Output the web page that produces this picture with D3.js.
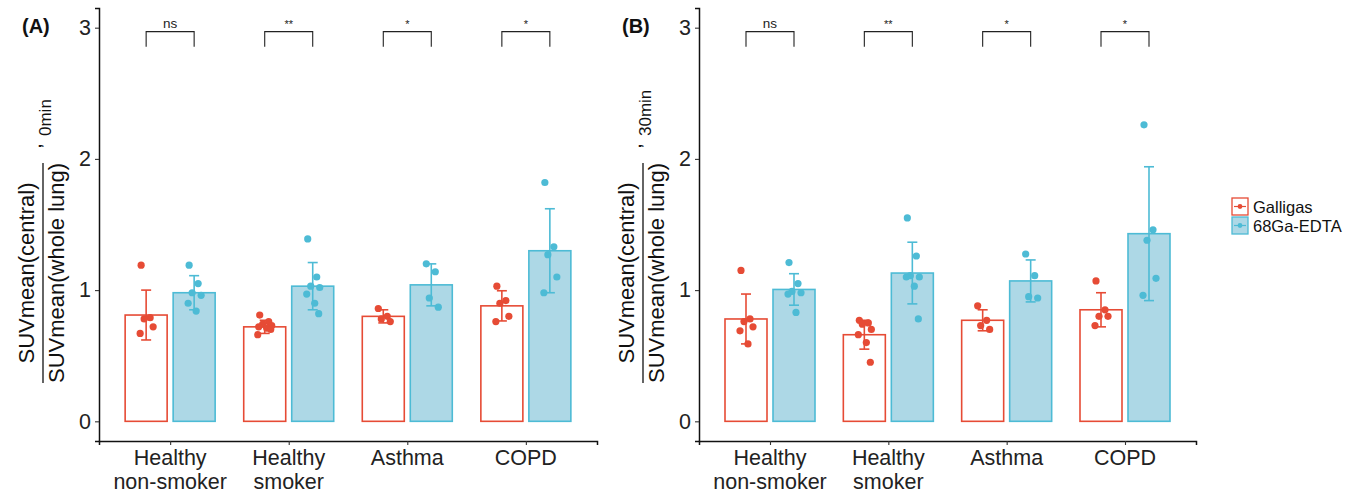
<!DOCTYPE html>
<html>
<head>
<meta charset="utf-8">
<script src="https://cdn.jsdelivr.net/npm/d3@7"></script>
<style>
  body { margin: 0; background: #fff; }
  text { font-family: "Liberation Sans", Arial, Helvetica, sans-serif; }
</style>
</head>
<body>
<svg width="1358" height="494"></svg>
<script>
// categories / groups
var categories = ["Healthy non-smoker", "Healthy smoker", "Asthma", "COPD"];
var catLines = [["Healthy", "non-smoker"], ["Healthy", "smoker"], ["Asthma"], ["COPD"]];
var tracers = ["Galligas", "68Ga-EDTA"];
var sigLabels = ["ns", "**", "*", "*"];
var yTicks = [0, 1, 2, 3];

// panel A (0 min)
var meanA_gal  = [0.81, 0.72, 0.80, 0.88];
var sdA_gal    = [0.19, 0.05, 0.05, 0.115];
var meanA_edta = [0.98, 1.03, 1.04, 1.30];
var sdA_edta   = [0.13, 0.18, 0.16, 0.32];
var ptsA_gal = [
  [1.19, 0.79, 0.78, 0.72, 0.67],
  [0.81, 0.76, 0.74, 0.73, 0.72, 0.71, 0.70, 0.66],
  [0.86, 0.80, 0.78, 0.76],
  [1.03, 0.92, 0.90, 0.80, 0.76]
];
var ptsA_edta = [
  [1.19, 1.05, 0.98, 0.96, 0.90, 0.84],
  [1.39, 1.10, 1.03, 1.02, 0.97, 0.90, 0.82],
  [1.20, 1.14, 0.94, 0.87],
  [1.82, 1.33, 1.27, 1.10, 0.98]
];

// panel B (30 min)
var meanB_gal  = [0.78, 0.66, 0.77, 0.85];
var sdB_gal    = [0.19, 0.11, 0.08, 0.13];
var meanB_edta = [1.005, 1.13, 1.07, 1.43];
var sdB_edta   = [0.12, 0.235, 0.16, 0.51];
var ptsB_gal = [
  [1.15, 0.78, 0.76, 0.72, 0.69, 0.59],
  [0.77, 0.75, 0.74, 0.70, 0.66, 0.60, 0.45],
  [0.88, 0.77, 0.73, 0.70],
  [1.07, 0.85, 0.80, 0.80, 0.73]
];
var ptsB_edta = [
  [1.21, 1.05, 0.99, 0.98, 0.97, 0.83],
  [1.55, 1.26, 1.11, 1.10, 1.10, 1.03, 0.78],
  [1.275, 1.11, 0.95, 0.94],
  [2.26, 1.46, 1.38, 1.09, 0.96]
];

var red = "#E64B35", blue = "#4DBBD5", lightblue = "#ADD8E6";
var strokeCol = [red, blue], fillCol = ["#ffffff", lightblue];

// fixed jitter pattern (px), like geom_jitter but reproducible
var jitter = [-5, 4, -2, 7, -6, 2, 6, -7];

var svg = d3.select("svg");
svg.append("rect").attr("width", 1358).attr("height", 494).attr("fill", "#fff");

var y = d3.scaleLinear().domain([-0.15, 3.15]).range([441, 8]);

function drawPanel(left, right, label, suffix, means, sds, pts) {
  var g = svg.append("g");
  var x = d3.scalePoint().domain(categories).range([left, right]).padding(0.6);
  var dodge = 24, barW = 42;

  // bars
  categories.forEach(function(c, i) {
    [0, 1].forEach(function(t) {
      var cx = x(c) + (t === 0 ? -dodge : dodge);
      g.append("rect")
        .attr("x", cx - barW / 2)
        .attr("y", y(means[t][i]))
        .attr("width", barW)
        .attr("height", y(0) - y(means[t][i]))
        .attr("fill", fillCol[t])
        .attr("stroke", strokeCol[t])
        .attr("stroke-width", 1.6);
    });
  });

  // error bars
  categories.forEach(function(c, i) {
    [0, 1].forEach(function(t) {
      var cx = x(c) + (t === 0 ? -dodge : dodge);
      var lo = y(means[t][i] - sds[t][i]), hi = y(means[t][i] + sds[t][i]);
      var e = g.append("g").attr("stroke", strokeCol[t]).attr("stroke-width", 1.6);
      e.append("line").attr("x1", cx).attr("x2", cx).attr("y1", lo).attr("y2", hi);
      e.append("line").attr("x1", cx - 5).attr("x2", cx + 5).attr("y1", lo).attr("y2", lo);
      e.append("line").attr("x1", cx - 5).attr("x2", cx + 5).attr("y1", hi).attr("y2", hi);
    });
  });

  // points
  categories.forEach(function(c, i) {
    [0, 1].forEach(function(t) {
      var cx = x(c) + (t === 0 ? -dodge : dodge);
      g.selectAll(null).data(pts[t][i]).enter().append("circle")
        .attr("cx", function(d, k) { return cx + jitter[k % jitter.length]; })
        .attr("cy", function(d) { return y(d); })
        .attr("r", 3.6)
        .attr("fill", strokeCol[t]);
    });
  });

  // significance brackets
  categories.forEach(function(c, i) {
    var x1 = x(c) - dodge, x2 = x(c) + dodge;
    g.append("path")
      .attr("d", "M" + x1 + "," + y(2.855) + "V" + y(2.97) + "H" + x2 + "V" + y(2.855))
      .attr("fill", "none").attr("stroke", "#222").attr("stroke-width", 1.1);
    g.append("text")
      .attr("x", x(c)).attr("y", y(2.97) - 4)
      .attr("text-anchor", "middle")
      .attr("font-size", sigLabels[i] === "ns" ? 13.5 : 11)
      .attr("fill", "#222")
      .text(sigLabels[i]);
  });

  // y axis
  var ya = g.append("g").attr("transform", "translate(" + left + ",0)")
    .call(d3.axisLeft(y).tickValues(yTicks).tickSize(4).tickPadding(4).tickFormat(d3.format("d")));
  ya.select(".domain").attr("stroke", "#111").attr("stroke-width", 1.5);
  ya.selectAll(".tick line").attr("stroke", "#333").attr("stroke-width", 1.1);
  ya.selectAll(".tick text").attr("font-size", 21.5).attr("fill", "#222")
    .attr("font-family", "Liberation Sans, Arial, sans-serif");

  // x axis
  var xa = g.append("g").attr("transform", "translate(0," + y(-0.15) + ")")
    .call(d3.axisBottom(x).tickSize(4).tickFormat(""));
  xa.select(".domain").attr("stroke", "#111").attr("stroke-width", 1.5);
  xa.selectAll(".tick line").attr("stroke", "#333").attr("stroke-width", 1.1);
  categories.forEach(function(c, i) {
    catLines[i].forEach(function(s, k) {
      g.append("text").attr("text-anchor", "middle").attr("font-size", 21.5).attr("fill", "#222")
        .attr("x", x(c)).attr("y", 465 + k * 24).text(s);
    });
  });

  // panel tag
  g.append("text").attr("x", left - 77).attr("y", 33)
    .attr("font-size", 20).attr("font-weight", "bold").attr("fill", "#111").text(label);

  // y title: fraction with subscript
  var tt = g.append("g").attr("transform", "translate(" + (left - 56) + ",273) rotate(-90)");
  tt.append("text").attr("x", 0).attr("y", -9).attr("text-anchor", "middle")
    .attr("font-size", 22).attr("fill", "#111").text("SUVmean(central)");
  tt.append("text").attr("x", 0).attr("y", 21).attr("text-anchor", "middle")
    .attr("font-size", 22).attr("fill", "#111").text("SUVmean(whole lung)");
  tt.append("line").attr("x1", -110).attr("x2", 110).attr("y1", 0).attr("y2", 0)
    .attr("stroke", "#111").attr("stroke-width", 1.3);
  tt.append("text").attr("x", 124).attr("y", -2).attr("font-size", 21).attr("fill", "#111").text(",");
  tt.append("text").attr("x", 137).attr("y", 8).attr("font-size", 17).attr("fill", "#111").text(suffix);
}

drawPanel(99, 597, "(A)", "0min", [meanA_gal, meanA_edta], [sdA_gal, sdA_edta], [ptsA_gal, ptsA_edta]);
drawPanel(699, 1196, "(B)", "30min", [meanB_gal, meanB_edta], [sdB_gal, sdB_edta], [ptsB_gal, ptsB_edta]);

// legend
var lg = svg.append("g").attr("transform", "translate(1232,198)");
tracers.forEach(function(name, t) {
  var row = lg.append("g").attr("transform", "translate(0," + t * 19 + ")");
  row.append("rect").attr("x", 0).attr("y", 0).attr("width", 16).attr("height", 17)
    .attr("fill", fillCol[t]).attr("stroke", strokeCol[t]).attr("stroke-width", 1.3);
  row.append("line").attr("x1", 2).attr("x2", 14).attr("y1", 8.5).attr("y2", 8.5)
    .attr("stroke", strokeCol[t]).attr("stroke-width", 1.2);
  row.append("circle").attr("cx", 8).attr("cy", 8.5).attr("r", 2.4).attr("fill", strokeCol[t]);
  row.append("text").attr("x", 21).attr("y", 14.5).attr("font-size", 16.5).attr("fill", "#111").text(name);
});
</script>
</body>
</html>
